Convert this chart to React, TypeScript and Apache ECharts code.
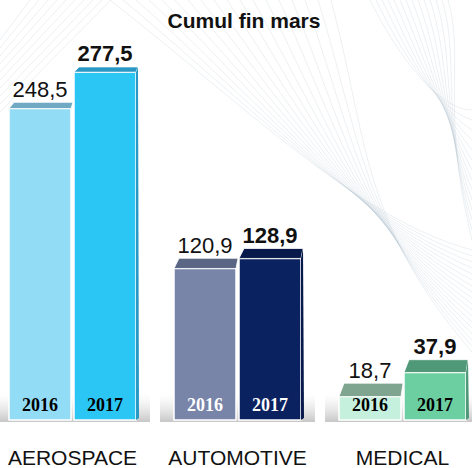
import React, { useEffect, useRef } from "react";
import * as echarts from "echarts";

const title = "Cumul fin mars";
const categories = ["AEROSPACE", "AUTOMOTIVE", "MEDICAL"];
const years = ["2016", "2017"];
const values2016 = [248.5, 120.9, 18.7];
const values2017 = [277.5, 128.9, 37.9];

const frontColors = [
  ["#93dcf6", "#2cc6f5"],
  ["#7884a8", "#0b2260"],
  ["#c6f0de", "#6ccfa2"],
];
const topColors = [
  ["#6fa9c4", "#2a98c4"],
  ["#5a6684", "#081a4c"],
  ["#7fa590", "#4f9878"],
];
const yearLabelColors = [
  ["#000000", "#000000"],
  ["#ffffff", "#ffffff"],
  ["#000000", "#000000"],
];

const fmt = (v: number) => v.toFixed(1).replace(".", ",");

function makeRender(s: number) {
  return function (params: any, api: any) {
    const cat = api.value(0);
    const val = api.value(1);
    const base = api.coord([cat, 0]);
    const top = api.coord([cat, val]);
    const barW = 62;
    const gap = 3;
    const x0 = s === 0 ? base[0] - gap / 2 - barW : base[0] + gap / 2;
    const x1 = x0 + barW;
    const yTop = top[1];
    const yBase = base[1];
    const depth = 5 + (yTop - 60) * 0.025;
    const children: any[] = [];
    if (s === 0) {
      children.push({
        type: "rect",
        shape: { x: x0 - 14, y: yBase - 26, width: 2 * barW + gap + 28, height: 28 },
        style: {
          fill: new echarts.graphic.LinearGradient(0, 0, 0, 1, [
            { offset: 0, color: "rgba(200,200,200,0)" },
            { offset: 1, color: "rgba(130,130,130,0.45)" },
          ]),
        },
      });
    }
    children.push({
      type: "rect",
      shape: { x: x0, y: yTop, width: barW, height: yBase - yTop },
      style: { fill: frontColors[cat][s], stroke: "#ffffff", lineWidth: 1.5 },
    });
    children.push({
      type: "polygon",
      shape: {
        points: [
          [x0, yTop],
          [x0 + 5, yTop - depth],
          [x1 + 2, yTop - depth],
          [x1, yTop],
        ],
      },
      style: { fill: topColors[cat][s], stroke: "#ffffff", lineWidth: 0.8 },
    });
    if (s === 1) {
      children.push({
        type: "polygon",
        shape: {
          points: [
            [x1, yTop],
            [x1 + 2, yTop - depth],
            [x1 + 3, yBase - 2],
            [x1, yBase],
          ],
        },
        style: { fill: topColors[cat][s] },
      });
    }
    children.push({
      type: "text",
      style: {
        text: years[s],
        x: (x0 + x1) / 2,
        y: yBase - 15,
        align: "center",
        verticalAlign: "middle",
        fill: yearLabelColors[cat][s],
        font: "bold 18px 'Liberation Serif', 'Times New Roman', serif",
      },
    });
    children.push({
      type: "text",
      style: {
        text: fmt(val),
        x: (x0 + x1) / 2,
        y: yTop - depth - 2,
        align: "center",
        verticalAlign: "bottom",
        fill: "#111111",
        font: (s === 1 ? "bold " : "") + "22px 'Liberation Sans', Arial, sans-serif",
      },
    });
    return { type: "group", children };
  };
}

function bgLines() {
  const els: any[] = [];
  const stroke = "rgba(150,170,190,0.18)";
  for (let i = 0; i < 18; i++) {
    els.push({
      type: "bezierCurve",
      silent: true,
      z: -10,
      shape: {
        x1: 110 + i * 13,
        y1: 0,
        cpx1: 250 + i * 7,
        cpy1: 110 + i * 2,
        cpx2: 360,
        cpy2: 220,
        x2: 472,
        y2: 250 + i * 6,
      },
      style: { stroke, lineWidth: 1, fill: "none" },
    });
  }
  for (let i = 0; i < 14; i++) {
    els.push({
      type: "bezierCurve",
      silent: true,
      z: -10,
      shape: {
        x1: 370 + i * 6,
        y1: 0,
        cpx1: 400 + i * 5,
        cpy1: 60,
        cpx2: 440,
        cpy2: 110,
        x2: 472,
        y2: 110 + i * 10,
      },
      style: { stroke, lineWidth: 1, fill: "none" },
    });
  }
  for (let i = 0; i < 10; i++) {
    els.push({
      type: "line",
      silent: true,
      z: -10,
      shape: { x1: 0, y1: 40 + i * 8, x2: 30 + i * 9, y2: 0 },
      style: { stroke, lineWidth: 1 },
    });
  }
  return els;
}

export default function App() {
  const ref = useRef<HTMLDivElement>(null);
  useEffect(() => {
    if (!ref.current) return;
    const chart = echarts.init(ref.current, null, { renderer: "svg" });
    chart.setOption({
      animation: false,
      backgroundColor: "#ffffff",
      title: {
        text: title,
        left: 239,
        top: 5,
        textAlign: "center",
        textStyle: {
          fontSize: 21,
          fontWeight: "bold",
          color: "#111111",
          fontFamily: "'Liberation Sans', Arial, sans-serif",
        },
      },
      graphic: bgLines(),
      grid: { left: -10, width: 495, top: 44, bottom: 48, outerBoundsMode: "none", containLabel: false },
      xAxis: {
        type: "category",
        data: categories,
        axisLine: { show: false },
        axisTick: { show: false },
        axisLabel: {
          interval: 0,
          hideOverlap: false,
          margin: 27,
          fontSize: 21,
          color: "#111111",
          fontFamily: "'Liberation Sans', Arial, sans-serif",
        },
      },
      yAxis: { type: "value", min: 0, max: 300, show: false, splitLine: { show: false } },
      series: [
        {
          type: "custom",
          name: years[0],
          renderItem: makeRender(0),
          data: values2016.map((v, i) => [i, v]),
          encode: { x: 0, y: 1 },
        },
        {
          type: "custom",
          name: years[1],
          renderItem: makeRender(1),
          data: values2017.map((v, i) => [i, v]),
          encode: { x: 0, y: 1 },
        },
      ],
    });
    return () => chart.dispose();
  }, []);
  return <div ref={ref} style={{ width: 472, height: 468, position: "absolute", left: 0, top: 0 }} />;
}
